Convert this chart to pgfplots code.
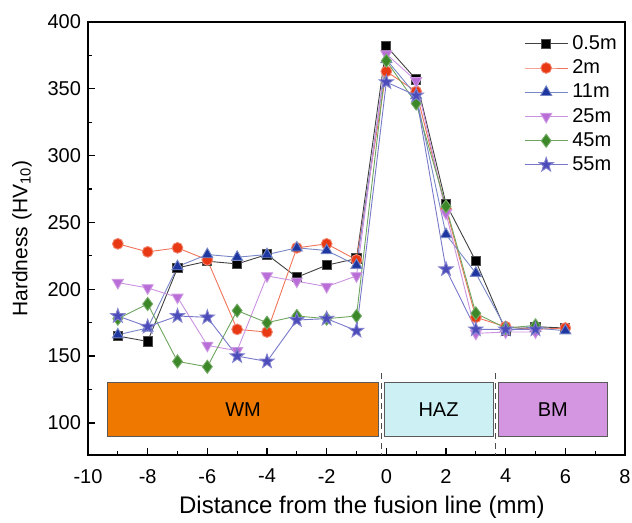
\documentclass[border=0pt]{standalone}
\usepackage{pgfplots}
\pgfplotsset{compat=1.18}
\usepackage{fontspec}
\setmainfont{Liberation Sans}

\definecolor{cA}{RGB}{0,0,0}
\definecolor{cB}{RGB}{232,56,20}
\definecolor{cC}{RGB}{30,55,160}
\definecolor{cD}{RGB}{185,110,215}
\definecolor{cE}{RGB}{60,135,40}
\definecolor{cF}{RGB}{75,75,185}
\definecolor{wm}{RGB}{238,120,0}
\definecolor{haz}{RGB}{204,240,243}
\definecolor{bm}{RGB}{212,150,225}

% filled five-pointed star
\pgfdeclareplotmark{fstar}{%
  \pgfpathmoveto{\pgfpointpolar{90}{1.25\pgfplotmarksize}}%
  \pgfpathlineto{\pgfpointpolar{126}{0.5\pgfplotmarksize}}%
  \pgfpathlineto{\pgfpointpolar{162}{1.25\pgfplotmarksize}}%
  \pgfpathlineto{\pgfpointpolar{198}{0.5\pgfplotmarksize}}%
  \pgfpathlineto{\pgfpointpolar{234}{1.25\pgfplotmarksize}}%
  \pgfpathlineto{\pgfpointpolar{270}{0.5\pgfplotmarksize}}%
  \pgfpathlineto{\pgfpointpolar{306}{1.25\pgfplotmarksize}}%
  \pgfpathlineto{\pgfpointpolar{342}{0.5\pgfplotmarksize}}%
  \pgfpathlineto{\pgfpointpolar{18}{1.25\pgfplotmarksize}}%
  \pgfpathlineto{\pgfpointpolar{54}{0.5\pgfplotmarksize}}%
  \pgfpathclose\pgfusepathqfillstroke}

\begin{document}
\begin{tikzpicture}
\begin{axis}[
    scale only axis,
    width=268.5pt, height=216.5pt,
    xmin=-10, xmax=8, ymin=76, ymax=400,
    xtick={-10,-8,...,8}, minor xtick={-9,-7,...,7},
    ytick={100,150,...,400}, minor ytick={125,175,...,375},
    tick align=inside, xtick pos=bottom, ytick pos=left,
    major tick length=3.5pt, minor tick length=2pt,
    axis line style={line width=0.7pt},
    every tick/.style={line width=0.6pt, black},
    /pgf/number format/assume math mode=true,
    ticklabel style={font=\fontsize{10}{12}\selectfont},
    xticklabel style={yshift=-3.5pt},
    xlabel={Distance from the fusion line (mm)},
    xlabel style={font=\fontsize{12}{14}\selectfont,
        at={(axis description cs:0.51,-0.12)}, anchor=center},
    ylabel={Hardness (HV\textsubscript{10})},
    ylabel style={font=\fontsize{10.5}{12}\selectfont,
        at={(axis description cs:-0.123,0.5)}, anchor=center},
    legend style={at={(1.004,0.989)}, anchor=north east, draw=none, fill=none,
        font=\fontsize{10}{12}\selectfont, row sep=-0.3pt},
    legend cell align=left,
    legend image code/.code={\draw[mark repeat=2,mark phase=2]
        plot coordinates {(0cm,0cm)(0.38cm,0cm)(0.76cm,0cm)};},
    every axis plot/.append style={line width=0.45pt},
]
% zone bars
\draw[gray!70!black, line width=0.4pt, fill=wm] (axis cs:-9.36,90) rectangle (axis cs:-0.26,130);
\draw[gray!70!black, line width=0.4pt, fill=haz] (axis cs:-0.08,90) rectangle (axis cs:3.58,130);
\draw[gray!70!black, line width=0.4pt, fill=bm] (axis cs:3.75,90) rectangle (axis cs:7.4,130);
\draw[densely dashed, gray!60!black, line width=0.5pt] (axis cs:-0.17,137) -- (axis cs:-0.17,76);
\draw[densely dashed, gray!60!black, line width=0.5pt] (axis cs:3.66,137) -- (axis cs:3.66,76);
\node[font=\fontsize{10}{12}\selectfont] at (axis cs:-4.8,110) {WM};
\node[font=\fontsize{10}{12}\selectfont] at (axis cs:1.75,110) {HAZ};
\node[font=\fontsize{10}{12}\selectfont] at (axis cs:5.58,110) {BM};

\addplot[color=black!75, mark=square*, mark size=2.3pt, mark options={fill=cA, draw=black!70}] coordinates {
(-9,165)(-8,161)(-7,216)(-6,221)(-5,219)(-4,226)(-3,209)(-2,218)(-1,223)
(0,382)(1,357)(2,264)(3,221)(4,169)(5,172)(6,171)};
\addlegendentry{0.5m}
\addplot[color=cB!70, mark=*, mark size=2.7pt, mark options={fill=cB, draw=cB!60}] coordinates {
(-9,234)(-8,228)(-7,231)(-6,222)(-5,170)(-4,168)(-3,231)(-2,234)(-1,222)
(0,363)(1,348)(2,260)(3,179)(4,172)(5,170)(6,171)};
\addlegendentry{2m}
\addplot[color=cC!60, mark=triangle*, mark size=3.2pt, mark options={fill=cC, draw=cC!60}] coordinates {
(-9,166)(-8,171)(-7,217)(-6,226)(-5,224)(-4,226)(-3,231)(-2,229)(-1,218)
(0,372)(1,345)(2,241)(3,212)(4,171)(5,171)(6,169)};
\addlegendentry{11m}
\addplot[color=cD!75, mark=triangle*, mark size=3.2pt, mark options={rotate=180, fill=cD, draw=cD!70}] coordinates {
(-9,205)(-8,201)(-7,194)(-6,158)(-5,154)(-4,210)(-3,206)(-2,202)(-1,210)
(0,376)(1,356)(2,257)(3,167)(4,168)(5,168)};
\addlegendentry{25m}
\addplot[color=cE!75, mark=diamond*, mark size=3.3pt, mark options={fill=cE, draw=cE!70}] coordinates {
(-9,178)(-8,189)(-7,146)(-6,142)(-5,184)(-4,175)(-3,180)(-2,178)(-1,180)
(0,371)(1,339)(2,262)(3,182)(4,171)(5,173)};
\addlegendentry{45m}
\addplot[color=cF!75, mark=fstar, mark size=3pt, mark options={fill=cF, draw=cF!70}] coordinates {
(-9,180)(-8,172)(-7,180)(-6,179)(-5,150)(-4,146)(-3,177)(-2,178)(-1,169)
(0,355)(1,345)(2,215)(3,170)(4,170)(5,170)};
\addlegendentry{55m}
\end{axis}
\pgfresetboundingbox
\path[use as bounding box] ([shift={(-44pt,-34pt)}]current axis.south west)
    rectangle ([shift={(3.5pt,11pt)}]current axis.north east);
\end{tikzpicture}
\end{document}
